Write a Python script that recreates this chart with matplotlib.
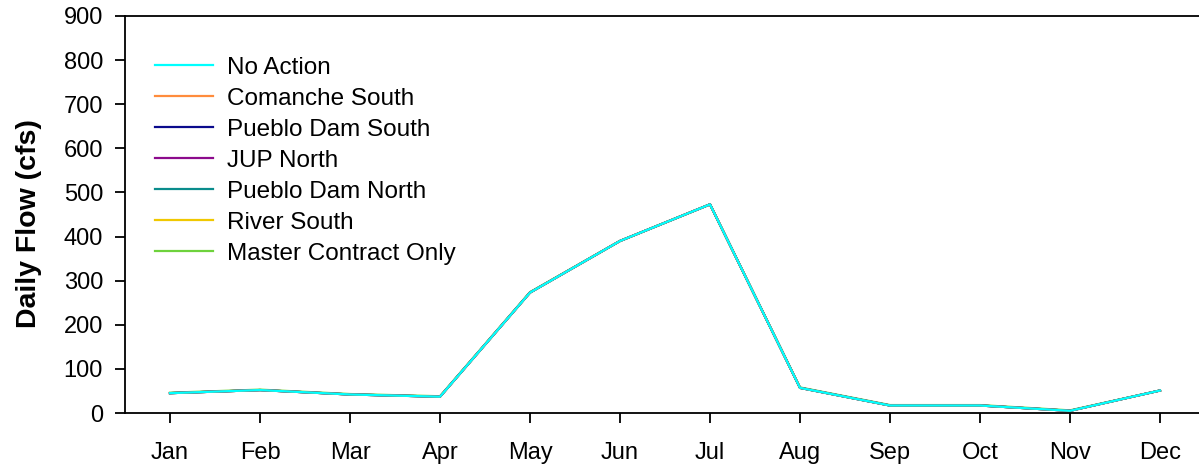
import matplotlib
matplotlib.use("Agg")
import matplotlib.pyplot as plt

months = ["Jan", "Feb", "Mar", "Apr", "May", "Jun", "Jul", "Aug", "Sep", "Oct", "Nov", "Dec"]

no_action = [45, 52, 42, 37, 273, 390, 473, 57, 17, 17, 5, 51]
comanche_south = [45, 52, 42, 37, 273, 390, 473, 57, 17, 17, 5, 51]
pueblo_dam_south = [45, 52, 42, 37, 273, 390, 473, 57, 17, 17, 5, 51]
jup_north = [45, 52, 42, 37, 273, 390, 473, 57, 17, 17, 5, 51]
pueblo_dam_north = [45, 52, 42, 37, 273, 390, 473, 57, 17, 17, 5, 51]
river_south = [45, 52, 42, 37, 273, 390, 473, 57, 17, 17, 5, 51]
master_contract_only = [46, 53, 43, 38, 274, 390, 473, 58, 18, 18, 6, 51]

series_names = ["No Action", "Comanche South", "Pueblo Dam South", "JUP North",
                "Pueblo Dam North", "River South", "Master Contract Only"]
series_values = [no_action, comanche_south, pueblo_dam_south, jup_north,
                 pueblo_dam_north, river_south, master_contract_only]
series_colors = ["#00FFFF", "#FF8C3C", "#0A0A8C", "#8C0A8C", "#0A8C8C", "#F0C800", "#6ED23C"]
y_ticks = [0, 100, 200, 300, 400, 500, 600, 700, 800, 900]

plt.rcParams['font.family'] = ['Liberation Sans', 'DejaVu Sans']

fig = plt.figure(figsize=(11.99, 4.66), dpi=100)
ax = fig.add_axes([125/1199, 53/466, 1080/1199, 397/466])

x = list(range(len(months)))
handles = {}
n = len(series_names)
for i in range(n - 1, -1, -1):
    name = series_names[i]
    z = 10 if i == 0 else 2 + (n - i)
    h, = ax.plot(x, series_values[i], color=series_colors[i], lw=1.6, label=name, zorder=z)
    handles[name] = h

ax.set_xlim(-0.5, 11.5)
ax.set_ylim(0, 900)
ax.set_xticks(x)
ax.set_xticklabels(months)
ax.set_yticks(y_ticks)
ax.tick_params(axis='both', direction='out', length=7.2, width=1.3, colors='black')
ax.tick_params(axis='x', pad=14, labelsize=17)
ax.tick_params(axis='y', pad=8.6, labelsize=17)
for s in ['left', 'bottom', 'top']:
    ax.spines[s].set_linewidth(1.3)
ax.spines['right'].set_visible(False)

ax.set_ylabel("Daily Flow (cfs)", fontsize=20.5, fontweight='bold')
ax.yaxis.set_label_coords(-0.0769, 0.476)

leg = ax.legend([handles[nm] for nm in series_names], series_names, loc='upper left',
                frameon=False, fontsize=17.5,
                handlelength=2.4, handletextpad=0.58, labelspacing=0.37, borderpad=0,
                borderaxespad=0)
leg.set_bbox_to_anchor((30/1080, 0.897), transform=ax.transAxes)

fig.savefig("out.png", dpi=100)
